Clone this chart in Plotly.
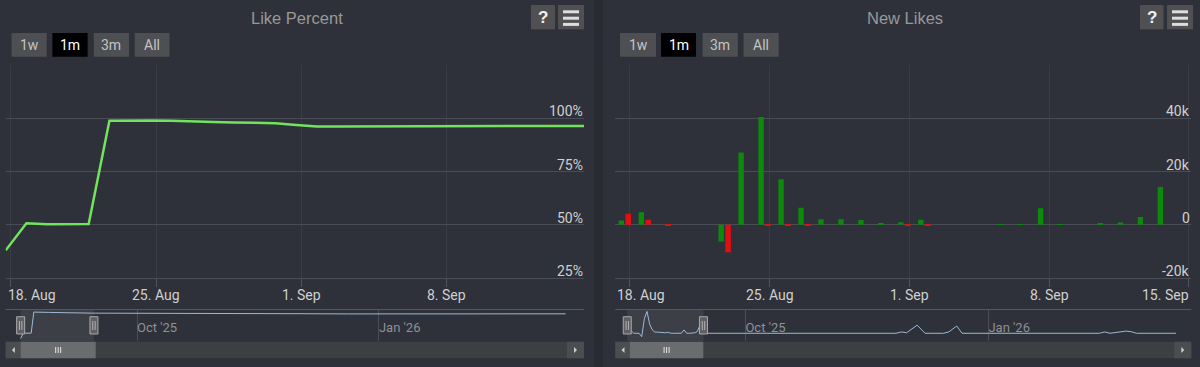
import plotly.graph_objects as go

W, H = 1200, 367
BG = "#2e3139"
GRID = "#4a4d55"
LAB = "Roboto, Liberation Sans, sans-serif"
TITLE_FONT = "Liberation Sans, Arial, sans-serif"
DAY_MS = 86400000

# ---------------- data ----------------
dates = [
    "2025-08-17 18:00", "2025-08-18 18:00", "2025-08-19 18:00", "2025-08-20 18:00",
    "2025-08-21 18:00", "2025-08-22 18:00", "2025-08-23 18:00", "2025-08-24 18:00",
    "2025-08-25 18:00", "2025-08-26 18:00", "2025-08-27 18:00", "2025-08-28 18:00",
    "2025-08-29 18:00", "2025-08-30 18:00", "2025-08-31 18:00", "2025-09-01 18:00",
    "2025-09-02 18:00", "2025-09-03 18:00", "2025-09-04 18:00", "2025-09-05 18:00",
    "2025-09-06 18:00", "2025-09-07 18:00", "2025-09-08 18:00", "2025-09-09 18:00",
    "2025-09-10 18:00", "2025-09-11 18:00", "2025-09-12 18:00", "2025-09-13 18:00",
    "2025-09-14 18:00",
]
like_percent = [
    38.0, 50.7, 50.2, 50.2, 50.3, 98.8, 99.0, 99.0, 98.8, 98.4, 98.2, 98.0,
    97.9, 97.7, 96.8, 96.1, 96.1, 96.1, 96.1, 96.1, 96.1, 96.2, 96.2, 96.2,
    96.2, 96.3, 96.3, 96.4, 96.4,
]
new_likes_green = [
    1600, 4700, 0, 0, 0, -6300, 27100, 40500, 17100, 6400, 2100, 2100,
    1750, 500, 900, 1900, 0, 0, 0, 100, 100, 6200, 100, 0,
    400, 800, 2900, 14200, 0,
]
new_likes_red = [
    4100, 1900, -300, 0, 0, -10300, 0, -300, -300, -300, 0, 0,
    0, 0, -300, -300, 0, 0, 0, 0, 0, 0, 0, 0,
    0, 0, 0, 0, 0,
]

# navigator (full history) continuation after the visible month
nav_like_dates_ext = ["2025-09-21", "2025-10-15", "2025-11-20", "2025-12-05",
                      "2025-12-20", "2026-01-31", "2026-03-13"]
nav_like_vals_ext = [96.4, 96.3, 96.2, 95.0, 94.6, 94.6, 94.8]

nav_new_dates_ext = ["2025-09-18", "2025-09-20", "2025-09-22", "2025-11-27", "2025-11-29",
                     "2025-12-01", "2025-12-05", "2025-12-08", "2025-12-15", "2025-12-17",
                     "2025-12-20", "2025-12-22", "2026-02-12", "2026-02-14", "2026-02-16",
                     "2026-02-20", "2026-02-22", "2026-02-24", "2026-02-26", "2026-03-13"]
nav_new_vals_ext = [0, 1000, 0, 0, 2500, 1000, 15000, 0, 0, 2500,
                    13500, 0, 0, 2500, 0, 3000, 4000, 3000, 0, 0]

left_xtick_vals = ["2025-08-18", "2025-08-25", "2025-09-01", "2025-09-08"]
left_xtick_text = ["18. Aug", "25. Aug", "1. Sep", "8. Sep"]
right_xtick_vals = ["2025-08-18", "2025-08-25", "2025-09-01", "2025-09-08", "2025-09-15"]
right_xtick_text = ["18. Aug", "25. Aug", "1. Sep", "8. Sep", "15. Sep"]
left_ytick_vals = [25, 50, 75, 100, 125]
left_ytick_text = ["25%", "50%", "75%", "100%", ""]
right_ytick_vals = [-20000, 0, 20000, 40000, 60000]
right_ytick_text = ["-20k", "0", "20k", "40k", ""]
nav_tick_vals = ["2025-10-01", "2026-01-01"]
nav_tick_text = ["Oct '25", "Jan '26"]
range_buttons = ["1w", "1m", "3m", "All"]

left_range = ["2025-08-17 18:00", "2025-09-14 15:00"]
right_range = ["2025-08-17 06:30", "2025-09-15 03:00"]
left_nav_range = ["2025-08-12 01:30", "2026-03-20 00:00"]
right_nav_range = ["2025-08-12 18:00", "2026-03-18 19:00"]


def fx(p):
    return p / W


def fy(p):
    return 1 - p / H


fig = go.Figure()

fig.add_trace(go.Scatter(x=dates, y=like_percent, mode="lines", xaxis="x", yaxis="y",
                         line=dict(color="#72e35c", width=2.5), hoverinfo="skip"))
fig.add_trace(go.Bar(x=dates, y=new_likes_green, xaxis="x2", yaxis="y2",
                     marker=dict(color="#0b8a0b", line=dict(width=0)),
                     width=0.27 * DAY_MS, offset=-0.31 * DAY_MS, hoverinfo="skip"))
fig.add_trace(go.Bar(x=dates, y=new_likes_red, xaxis="x2", yaxis="y2",
                     marker=dict(color="#e01010", line=dict(width=0)),
                     width=0.28 * DAY_MS, offset=0.03 * DAY_MS, hoverinfo="skip"))
fig.add_trace(go.Scatter(x=dates + nav_like_dates_ext, y=like_percent + nav_like_vals_ext,
                         mode="lines", xaxis="x3", yaxis="y3",
                         line=dict(color="#9db8d8", width=1), hoverinfo="skip"))
fig.add_trace(go.Scatter(x=dates + nav_new_dates_ext, y=new_likes_green + nav_new_vals_ext,
                         mode="lines", xaxis="x4", yaxis="y4",
                         line=dict(color="#9db8d8", width=1), hoverinfo="skip"))

main_y_dom = [fy(278), fy(65)]
nav_y_dom = [fy(341), fy(310)]
L_dom = [fx(5.7), fx(584)]
R_dom = [fx(615.3), fx(1191.3)]

xmain = dict(type="date", showticklabels=False, showgrid=True, gridcolor="#393c44",
             ticks="outside", ticklen=8, tickcolor="#50535b", showline=True,
             linecolor=GRID, zeroline=False, fixedrange=True)
ymain = dict(side="right", showticklabels=False, ticks="", showgrid=True,
             gridcolor=GRID, zeroline=False, showline=False, fixedrange=True)
xnav = dict(type="date", tickvals=nav_tick_vals, ticktext=nav_tick_text,
            ticklabelposition="inside right", ticks="", showgrid=True, gridcolor=GRID,
            showline=False, zeroline=False,
            tickfont=dict(family=LAB, size=13, color="#8e9096"), fixedrange=True)
ynav = dict(visible=False, fixedrange=True)

fig.update_layout(
    width=W, height=H, margin=dict(l=0, r=0, t=0, b=0),
    paper_bgcolor=BG, plot_bgcolor="rgba(0,0,0,0)", showlegend=False,
    barmode="overlay",
    xaxis=dict(xmain, domain=L_dom, anchor="y", range=left_range, tickvals=left_xtick_vals),
    yaxis=dict(ymain, domain=main_y_dom, anchor="x", range=[25, 125],
               tickvals=left_ytick_vals),
    xaxis2=dict(xmain, domain=R_dom, anchor="y2", range=right_range, tickvals=right_xtick_vals),
    yaxis2=dict(ymain, domain=main_y_dom, anchor="x2", range=[-20000, 60000],
                tickvals=right_ytick_vals),
    xaxis3=dict(xnav, domain=L_dom, anchor="y3", range=left_nav_range),
    yaxis3=dict(ynav, domain=nav_y_dom, anchor="x3", range=[32.3, 103.6]),
    xaxis4=dict(xnav, domain=R_dom, anchor="y4", range=right_nav_range),
    yaxis4=dict(ynav, domain=nav_y_dom, anchor="x4", range=[-14300, 43100]),
)

shapes = []
annots = []


def rect(x0, y0, x1, y1, fill, line=None, lw=0, layer="below"):
    shapes.append(dict(type="rect", xref="paper", yref="paper", x0=fx(x0), x1=fx(x1),
                       y0=fy(y1), y1=fy(y0), fillcolor=fill, layer=layer,
                       line=dict(color=line or fill, width=lw)))


def seg(x0, y0, x1, y1, color, w=1, layer="above"):
    shapes.append(dict(type="line", xref="paper", yref="paper", x0=fx(x0), x1=fx(x1),
                       y0=fy(y0), y1=fy(y1), layer=layer, line=dict(color=color, width=w)))


def tri(cx, cy, direction, color="#cccccc"):
    s = 3
    if direction == "left":
        pts = [(cx - s / 2, cy), (cx + s / 2, cy - s), (cx + s / 2, cy + s)]
    else:
        pts = [(cx + s / 2, cy), (cx - s / 2, cy - s), (cx - s / 2, cy + s)]
    path = "M " + " L ".join(f"{fx(a)},{fy(b)}" for a, b in pts) + " Z"
    shapes.append(dict(type="path", xref="paper", yref="paper", path=path,
                       fillcolor=color, line=dict(width=0), layer="above"))


# panel separator
rect(594, 0, 603, 367, "#282b31")

panels = [
    dict(title="Like Percent", tcx=297, btn=[(11.5, 46.7), (52.4, 87.6), (93.8, 129), (134.7, 169.5)],
         help=(531, 555), menu=(558, 584), xl=5.7, xr=584, navx="x3",
         navrange=left_range, thumb=(20.7, 95.7), xaxis="x", yaxis="y",
         yt=list(zip(left_ytick_vals, left_ytick_text)),
         ticks=list(zip(left_xtick_vals, left_xtick_text)), rng=left_range),
    dict(title="New Likes", tcx=904.5, btn=[(620, 656), (661, 696), (702.6, 737.8), (743.5, 778.7)],
         help=(1140, 1163.5), menu=(1167, 1193), xl=615.3, xr=1191.3, navx="x4",
         navrange=right_range, thumb=(629.9, 703.3), xaxis="x2", yaxis="y2",
         yt=list(zip(right_ytick_vals, right_ytick_text)),
         ticks=list(zip(right_xtick_vals, right_xtick_text)), rng=right_range),
]

for p in panels:
    annots.append(dict(text=p["title"], x=fx(p["tcx"]), y=fy(18), xref="paper", yref="paper",
                       showarrow=False, xanchor="center", yanchor="middle",
                       font=dict(family=TITLE_FONT, size=16.5, color="#999999")))
    # range selector buttons
    for i, (b0, b1) in enumerate(p["btn"]):
        sel = range_buttons[i] == "1m"
        rect(b0, 33, b1, 56.7, "#000003" if sel else "#4e4f53")
        annots.append(dict(text=range_buttons[i], x=fx((b0 + b1) / 2), y=fy(45), xref="paper",
                           yref="paper", showarrow=False, xanchor="center", yanchor="middle",
                           font=dict(family=LAB, size=14,
                                     color="#ffffff" if sel else "#c4c4c4")))
    # help and menu buttons
    h0, h1 = p["help"]
    rect(h0, 5, h1, 29.3, "#505053")
    annots.append(dict(text="<b>?</b>", x=fx((h0 + h1) / 2), y=fy(17.5), xref="paper",
                       yref="paper", showarrow=False, xanchor="center", yanchor="middle",
                       font=dict(family=TITLE_FONT, size=17, color="#f0f0f0")))
    m0, m1 = p["menu"]
    rect(m0, 5, m1, 29.3, "#505053")
    for yy in (11.8, 18.2, 24.4):
        seg(m0 + 5, yy, m1 - 5, yy, "#dddddd", 3)
    # y-axis labels (right side, above grid lines)
    for v, t in p["yt"]:
        if not t:
            continue
        annots.append(dict(text=t, x=fx(p["xr"] + 1), y=v, xref="paper", yref=p["yaxis"],
                           showarrow=False, xanchor="right", yanchor="middle", yshift=7,
                           font=dict(family=LAB, size=14, color="#d0d0d0")))
    # x-axis labels (justified at plot edges)
    xs = [v for v, _ in p["ticks"]]
    for v, t in p["ticks"]:
        anchor, xv = "center", v
        if v == xs[0]:
            anchor, xv = "left", p["rng"][0]
        if t == "15. Sep":
            anchor, xv = "right", p["rng"][1]
        annots.append(dict(text=t, x=xv, y=fy(295), xref=p["xaxis"], yref="paper",
                           showarrow=False, xanchor=anchor, yanchor="middle",
                           font=dict(family=LAB, size=14, color="#d0d0d0")))
    # navigator top outline
    seg(p["xl"], 309.5, p["xr"], 309.5, "#55585f", 1, layer="below")
    # navigator selected mask
    shapes.append(dict(type="rect", xref=p["navx"], yref="paper", x0=p["navrange"][0],
                       x1=p["navrange"][1], y0=fy(341), y1=fy(310), layer="below",
                       fillcolor="rgba(255,255,255,0.07)", line=dict(width=0)))
    # handles
    for hv in p["navrange"]:
        shapes.append(dict(type="rect", xref=p["navx"], yref="paper", xsizemode="pixel",
                           xanchor=hv, x0=-4, x1=4, y0=fy(334), y1=fy(316.7), layer="above",
                           fillcolor="#5f6064", line=dict(color="#a8a8a8", width=1)))
        for dx in (-1.2, 1.2):
            shapes.append(dict(type="line", xref=p["navx"], yref="paper", xsizemode="pixel",
                               xanchor=hv, x0=dx, x1=dx, y0=fy(330), y1=fy(321), layer="above",
                               line=dict(color="#b0b0b0", width=1)))
    # scrollbar
    rect(p["xl"], 341.7, p["xr"], 358.3, "#3e3f43")
    rect(p["xl"], 341.7, p["xl"] + 15.5, 358.3, "#4c4d51")
    rect(p["xr"] - 17, 341.7, p["xr"], 358.3, "#4c4d51")
    tri(p["xl"] + 7.7, 350, "left")
    tri(p["xr"] - 8.5, 350, "right")
    t0, t1 = p["thumb"]
    rect(t0, 341.7, t1, 358.3, "#6b6c70")
    cx = (t0 + t1) / 2
    for dx in (-2.5, 0, 2.5):
        seg(cx + dx, 347, cx + dx, 353, "#e8e8e8", 1)

fig.update_layout(shapes=shapes, annotations=annots)
fig.write_html("out.html", config={"displayModeBar": False},
               post_script="document.body.style.margin='0';document.body.style.overflow='hidden';")
